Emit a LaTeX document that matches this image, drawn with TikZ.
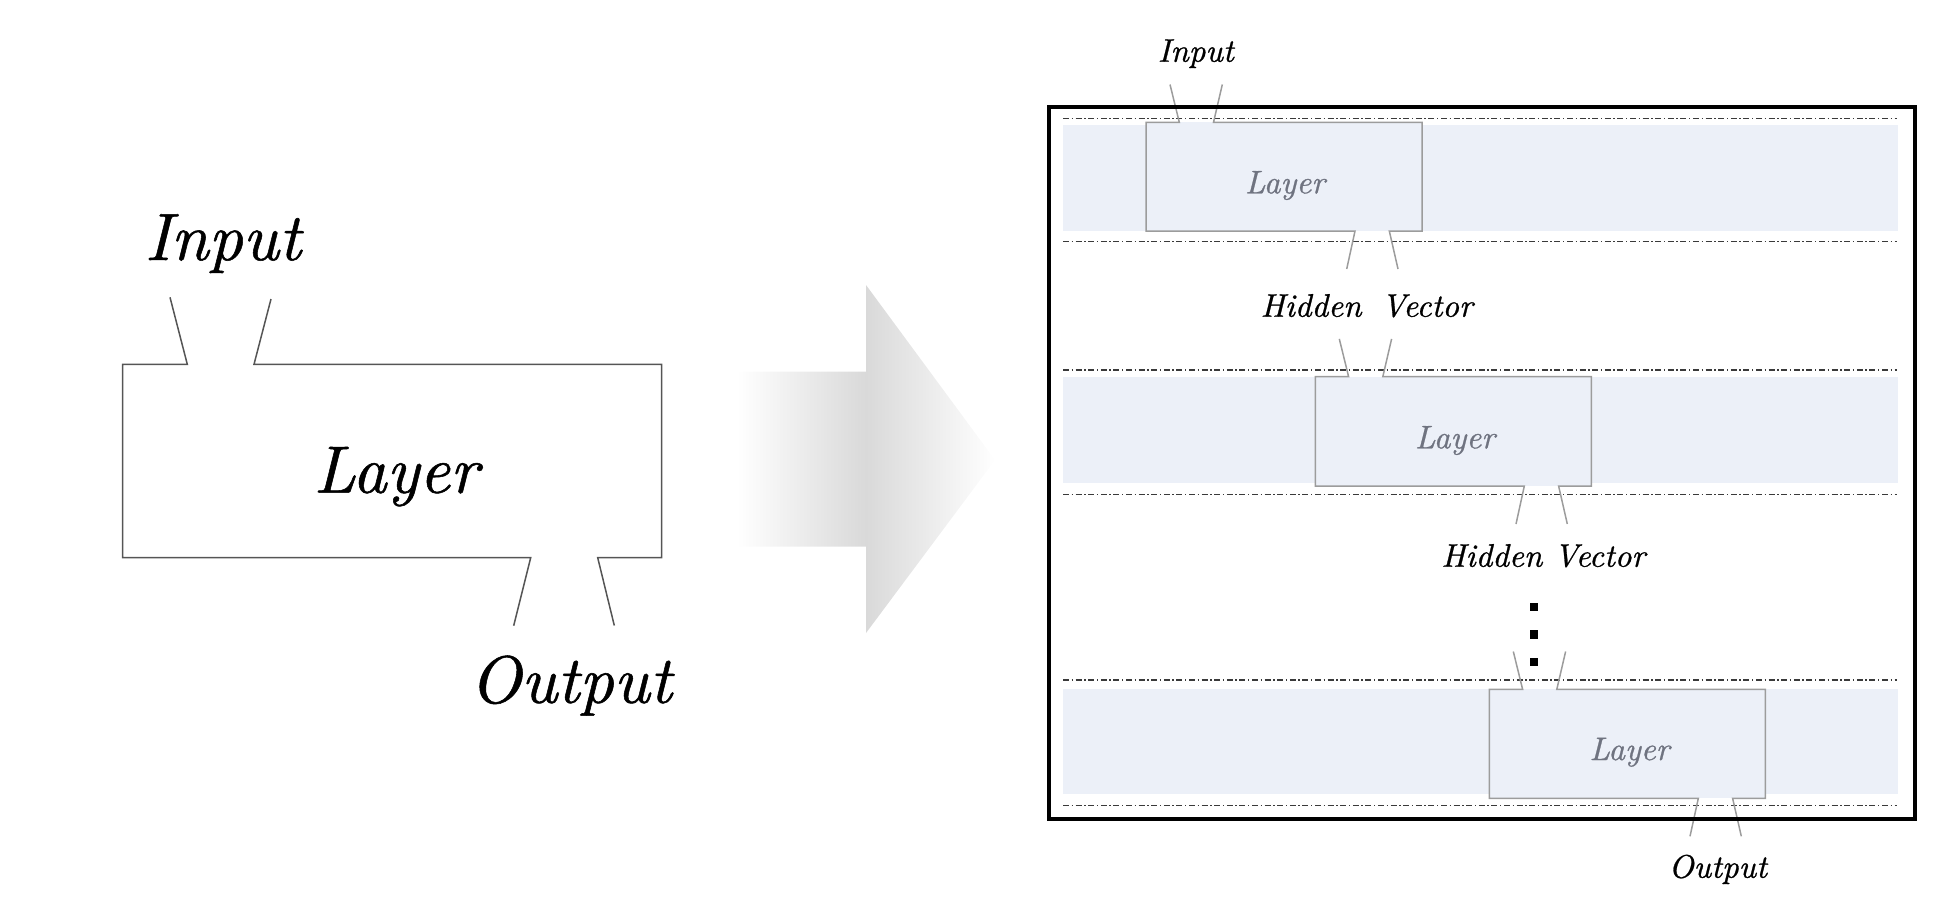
\documentclass[tikz,border=0pt]{standalone}
\usepackage{fontspec}
\newfontfamily\dfont{lmroman10-italic}[Extension=.otf, FakeBold=0.8]
\definecolor{bandc}{HTML}{ECF0F8}
\definecolor{boxline}{HTML}{9C9C9C}
\definecolor{layertxt}{HTML}{6F7380}
\definecolor{arrowgray}{HTML}{D9D9D9}
\definecolor{leftline}{HTML}{555555}
\definecolor{dashc}{HTML}{3A3A3A}
\tikzset{
  bigtxt/.style={font=\fontsize{33.5}{40}\selectfont\dfont, inner sep=0pt, anchor=base},
  smalltxt/.style={font=\fontsize{16.3}{20}\selectfont\dfont, inner sep=0pt, anchor=base},
  layertext/.style={smalltxt, text=layertxt},
  leftedge/.style={draw=leftline, line width=0.75pt},
  rightedge/.style={draw=boxline, line width=0.75pt},
  sepline/.style={draw=dashc, line width=0.55pt, dash pattern=on 3pt off 1.3pt on 0.7pt off 1.3pt},
  bandfill/.style={fill=bandc},
  dotsq/.style={fill=black, minimum size=4.2pt, inner sep=0pt, draw=none, shape=rectangle},
}
% #1 left x, #2 top y, #3 bottom y
\newcommand\rlayer[3]{%
  \fill[bandfill] (#1,#2) rectangle ({#1+276},#3);
  \draw[rightedge] ({#1+24},{#2-37.8}) -- ({#1+33.3},#2) -- (#1,#2) -- (#1,#3)
      -- ({#1+209},#3) -- ({#1+200.7},{#3+38});
  \draw[rightedge] ({#1+76.3},{#2-37.8}) -- ({#1+67.5},#2) -- ({#1+276},#2)
      -- ({#1+276},#3) -- ({#1+243.3},#3) -- ({#1+252},{#3+38});
}
\begin{document}
\begin{tikzpicture}[x=0.5pt,y=-0.5pt]
\useasboundingbox (0,0) rectangle (1947,918);

% ---------- left figure ----------
\draw[leftedge] (170,297.3) -- (187.3,364.3) -- (122.7,364.3) -- (122.7,557.7)
   -- (530.7,557.7) -- (513.7,625.7);
\draw[leftedge] (271,299) -- (254,364.3) -- (661.7,364.3) -- (661.7,557.7)
   -- (597.7,557.7) -- (614.3,625.5);
\node[bigtxt] (inL) at (223,260) {Input};
\node[bigtxt] (layL) at (396,492.7) {Layer};
\node[bigtxt] (outL) at (570.8,702.7) {Output};

% ---------- arrow ----------
\shade[left color=white, right color=white, middle color=arrowgray]
  (737,371.7) -- (866,371.7) -- (866,285) -- (995,460) -- (866,633)
  -- (866,546.7) -- (737,546.7) -- cycle;

% ---------- right figure ----------
\fill[bandfill] (1062.7,125) rectangle (1898.3,231);
\fill[bandfill] (1062.7,377.3) rectangle (1898.3,483.3);
\fill[bandfill] (1062.7,689.3) rectangle (1898.3,794.3);

\foreach \yy in {118.3,241.3,370,494.3,680,805.7}{
  \draw[sepline] (1063,\yy) -- (1897,\yy);
}

\rlayer{1146}{122.3}{231}
\rlayer{1315.3}{376.7}{486}
\rlayer{1489.3}{689.3}{798.3}

\draw[line width=2.1pt] (1048.7,107.3) rectangle (1914.8,819);

\node[smalltxt] (inR) at (1195.8,61.7) {Input};
\node[layertext] (lay1) at (1285,193.3) {Layer};
\node[smalltxt] (hv1) at (1366.7,316.7) {Hidden\hspace{10pt}Vector};
\node[layertext] (lay2) at (1455,448.3) {Layer};
\node[smalltxt] (hv2) at (1543.3,566.7) {Hidden Vector};
\node[layertext] (lay3) at (1629.5,760) {Layer};
\node[smalltxt] (outR) at (1717.8,877.7) {Output};

\node[dotsq] (d1) at (1534,606.7) {};
\node[dotsq] (d2) at (1534,634.3) {};
\node[dotsq] (d3) at (1534,661.7) {};
\end{tikzpicture}
\end{document}
